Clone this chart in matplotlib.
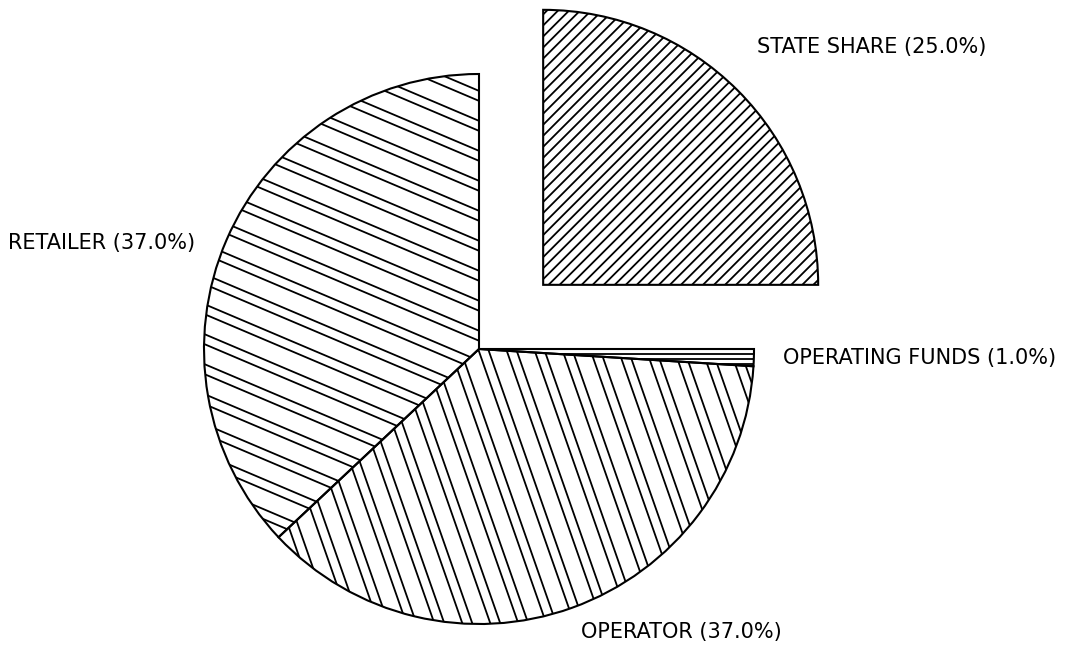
import matplotlib.pyplot as plt
from matplotlib.collections import LineCollection
import numpy as np

# slices, clockwise from 12 o'clock
labels = ['STATE SHARE (25.0%)', 'OPERATING FUNDS (1.0%)', 'OPERATOR (37.0%)', 'RETAILER (37.0%)']
shares = [25.0, 1.0, 37.0, 37.0]
explode = [0.33, 0, 0, 0]   # fraction of the radius

# hatch style per slice: line angle (deg), gaps between lines (px)
hatch_angle = [45, 0, -70.7, -23]
hatch_gaps = [[7.8], [5.0], [9.4, 17.0], [9.2, 18.4]]

# where the labels sit (pixels, from top-left)
label_pos = [(757, 47), (783, 358), (581, 632), (8, 243)]

W, H = 1066, 650
fig = plt.figure(figsize=(W / 100, H / 100), dpi=100)
ax = fig.add_axes([0, 0, 1, 1])

cx, cy, r = 479, H - 349, 275
# pie() takes explode in data units, so scale by the radius
wedges, _ = ax.pie(shares, explode=[e * r for e in explode], startangle=90,
                   counterclock=False, center=(cx, cy), radius=r,
                   wedgeprops=dict(facecolor='white', edgecolor='black', linewidth=1.5))


def hatch(wedge, angle, gaps):
    # parallel lines over the whole picture, clipped to the wedge
    a = np.radians(angle)
    d = np.array([np.cos(a), np.sin(a)])
    n = np.array([-np.sin(a), np.cos(a)])
    L = 1400
    segs = []
    s = -L
    i = 0
    while s < L:
        p = np.array([cx, cy]) + s * n
        segs.append([p - L * d, p + L * d])
        s += gaps[i % len(gaps)]
        i += 1
    lc = LineCollection(segs, colors='black', linewidths=1.3)
    ax.add_collection(lc)
    lc.set_clip_path(wedge)


for w, ang, g in zip(wedges, hatch_angle, hatch_gaps):
    hatch(w, ang, g)
    w.set_zorder(3)
    w.set_facecolor('none')

for lab, (x, y) in zip(labels, label_pos):
    ax.text(x, H - y, lab, fontsize=15, family='DejaVu Sans',
            ha='left', va='center', color='black')

ax.set_xlim(0, W)
ax.set_ylim(0, H)
ax.set_aspect('auto')
ax.axis('off')

fig.savefig('out.png', dpi=100, facecolor='white')
